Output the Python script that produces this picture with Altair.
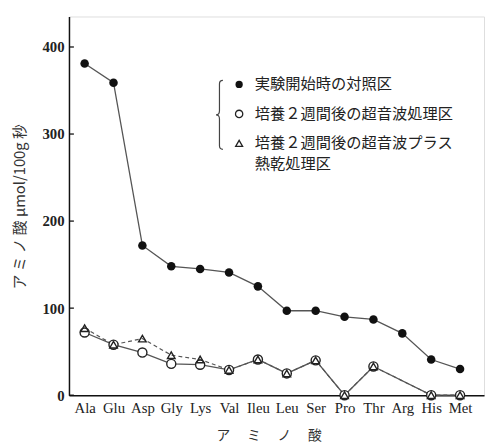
import altair as alt
import pandas as pd

# ---- data ----
amino_acids = ["Ala", "Glu", "Asp", "Gly", "Lys", "Val", "Ileu", "Leu",
               "Ser", "Pro", "Thr", "Arg", "His", "Met"]
control_start = [381, 359, 172, 148, 145, 141, 125, 97, 97, 90, 87, 71, 41, 30]
ultrasonic = [72, 58, 49, 36, 35, 29, 41, 25, 40, 0, 33, None, 0, 0]
ultrasonic_heat = [77, 58, 65, 46, 41, 29, 41, 25, 40, 0, 33, None, 0, 0]
y_ticks = [0, 100, 200, 300, 400]
legend_labels = ["実験開始時の対照区", "培養２週間後の超音波処理区",
                 "培養２週間後の超音波プラス", "熱乾処理区"]
x_title = "ア　 ミ　 ノ　 酸"
y_title = "ア ミ ノ 酸  μmol/100g  秒"


def frame(values):
    return pd.DataFrame({"acid": amino_acids, "v": values}).dropna()


df_c = frame(control_start)
df_u = frame(ultrasonic)
df_h = frame(ultrasonic_heat)
df_t = pd.DataFrame({"v": y_ticks})

x_axis = alt.Axis(title=x_title, labelAngle=0, ticks=False, labelPadding=6,
                  labelFont="Liberation Serif", labelFontSize=15, labelColor="#222",
                  titleFont="Noto Sans CJK JP", titleFontSize=14, titleFontWeight="normal",
                  titleColor="#333", titleX=203, titleY=41, titleBaseline="middle",
                  domainColor="#111", domainWidth=1.5)
x_scale = alt.Scale(type="point", padding=0.686, align=0.395)
x_enc = alt.X("acid:N", sort=amino_acids, scale=x_scale, axis=x_axis)

y_axis = alt.Axis(title=y_title, values=y_ticks, ticks=False, grid=False, labelPadding=5,
                  labelFont="Liberation Serif", labelFontSize=15, labelFontWeight="bold",
                  labelColor="#222",
                  titleFont="Noto Sans CJK JP", titleFontSize=15, titleFontWeight="normal",
                  titleColor="#333", titleX=-50, titleY=193, titleBaseline="middle",
                  titleAlign="center",
                  domainColor="#111", domainWidth=1.5)
y_scale = alt.Scale(domain=[0, 435], nice=False)
y_enc = alt.Y("v:Q", scale=y_scale, axis=y_axis)

base_c = alt.Chart(df_c).encode(x=x_enc, y=y_enc)
base_u = alt.Chart(df_u).encode(x=x_enc, y=y_enc)
base_h = alt.Chart(df_h).encode(x=x_enc, y=y_enc)

ticks = alt.Chart(df_t).mark_rule(color="#111", strokeWidth=1.3).encode(
    y=y_enc, x=alt.value(0), x2=alt.value(5))

line_h = base_h.mark_line(color="#555", strokeWidth=1.2, strokeDash=[4, 3])
line_u = base_u.mark_line(color="#555", strokeWidth=1.3)
line_c = base_c.mark_line(color="#555", strokeWidth=1.3)

pts_c = base_c.mark_point(shape="circle", filled=True, size=75, color="#111", opacity=1)
pts_u = base_u.mark_point(shape="circle", filled=True, fill="white", stroke="#222",
                          strokeWidth=1.4, size=85, opacity=1)
pts_h = base_h.mark_point(shape="triangle-up", filled=False, stroke="#222",
                          strokeWidth=1.4, size=60, opacity=1)

# ---- legend (drawn as annotations) ----
leg = []
brace_path = ("M0.1,-1 Q0,-1 0,-0.9 L0,-0.12 Q0,0 -0.1,0 "
              "Q0,0 0,0.12 L0,0.9 Q0,1 0.1,1")
leg.append(alt.Chart(df_t.head(1)).mark_point(
    shape=brace_path, filled=False, stroke="#444", strokeWidth=1.2,
    size=4900, opacity=1).encode(x=alt.value(153), y=alt.value(100)))
leg.append(alt.Chart(df_t.head(1)).mark_point(
    shape="circle", filled=True, size=55, color="#111", opacity=1
).encode(x=alt.value(173), y=alt.value(69)))
leg.append(alt.Chart(df_t.head(1)).mark_point(
    shape="circle", filled=False, size=55, stroke="#222", strokeWidth=1.3, opacity=1
).encode(x=alt.value(173), y=alt.value(99)))
leg.append(alt.Chart(df_t.head(1)).mark_point(
    shape="triangle-up", filled=False, size=50, stroke="#222", strokeWidth=1.3, opacity=1
).encode(x=alt.value(173), y=alt.value(129)))
leg_y = [69, 99, 129, 150]
for lbl, yy in zip(legend_labels, leg_y):
    leg.append(alt.Chart(df_t.head(1)).mark_text(
        text=lbl, align="left", baseline="middle", font="Noto Sans CJK JP",
        fontSize=15.5, color="#222").encode(x=alt.value(189), y=alt.value(yy)))

chart = alt.layer(
    ticks, line_h, line_u, line_c, pts_c, pts_u, pts_h, *leg
).properties(
    width=422, height=385,
    autosize=alt.AutoSizeParams(type="none"),
    padding={"left": 62, "top": 5, "right": 2, "bottom": 48},
).configure_view(stroke=None).configure(background="white")

chart.save("out.html", embed_options={"renderer": "svg", "actions": False})
